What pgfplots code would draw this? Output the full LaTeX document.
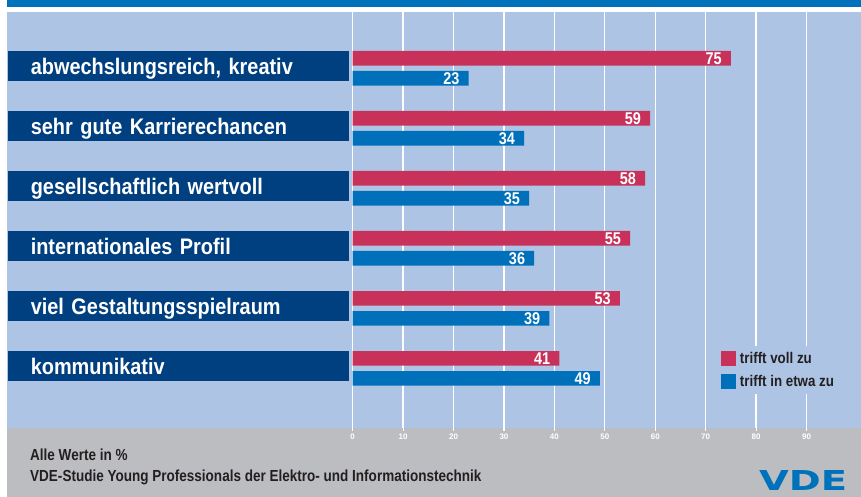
\documentclass[border=0pt]{standalone}
\usepackage{fontspec}
\usepackage{graphicx}
\usepackage{pgfplots}
\pgfplotsset{compat=1.18}
\setmainfont{Liberation Sans}
\newfontfamily\catfont{Liberation Sans}[FakeStretch=0.885, WordSpace=0.7]
\newfontfamily\legfont{Liberation Sans}[FakeStretch=0.86]
\newfontfamily\valfont{Liberation Sans}[FakeStretch=0.85]
\newfontfamily\footfont{Liberation Sans}[FakeStretch=0.845]
\newfontfamily\logofont{DejaVu Sans}
\definecolor{vdeblue}{HTML}{0072BC}
\definecolor{barblue}{HTML}{0070BA}
\definecolor{bgblue}{HTML}{AEC4E4}
\definecolor{dkblue}{HTML}{003F80}
\definecolor{vdred}{HTML}{C8325A}
\definecolor{bggray}{HTML}{BCBDC0}
\definecolor{txtdark}{HTML}{231F20}
\begin{document}
\begin{tikzpicture}[x=1pt,y=1pt]
\fill[white] (0,0) rectangle (861,497);
\fill[vdeblue] (7,490) rectangle (861,497);
\fill[bgblue] (7,69.3) rectangle (861,485);
\fill[bggray] (7,0) rectangle (861,69.3);
\begin{axis}[
  at={(352.7pt,69.3pt)}, anchor=south west,
  scale only axis, width=508.3pt, height=415.7pt,
  xmin=0, xmax=100.8, ymin=-0.989, ymax=5.939,
  xbar, bar width=14.7pt,
  /pgf/number format/assume math mode=true,
  axis line style={draw=none},
  xtick={0,10,...,90},
  xtick pos=lower,
  tick align=outside,
  major tick length=3pt,
  xtick style={white, line width=1.2pt},
  ytick style={draw=none},
  xmajorgrids, grid style={white, line width=1.3pt},
  xticklabel style={font=\bfseries\fontsize{8}{8}\selectfont, text=white},
  ytick={0,...,5},
  yticklabels={kommunikativ, viel Gestaltungsspielraum, internationales Profil, gesellschaftlich wertvoll, sehr gute Karrierechancen, {abwechslungsreich, kreativ}},
  yticklabel style={anchor=east, fill=dkblue, text=white,
    font=\catfont\bfseries\fontsize{22.5}{22.5}\selectfont,
    text width=295pt, align=left, inner xsep=23pt, inner ysep=0pt,
    text height=23pt, text depth=7pt, xshift=-0.7pt, yshift=2.3pt},
  point meta=x,
  nodes near coords,
  nodes near coords style={anchor=east, text=white, inner sep=0pt, xshift=-9pt,
    font=\valfont\bfseries\fontsize{17}{17}\selectfont},
  legend style={at={(axis cs:72.2,0.37)}, anchor=north west, fill=bgblue, draw=none,
    font=\legfont\bfseries\fontsize{15.5}{15.5}\selectfont, text=txtdark,
    row sep=6pt, inner sep=4pt,
    /tikz/every odd column/.append style={column sep=2pt}},
  legend cell align=left,
  legend image code/.code={\fill[#1] (0pt,-7.5pt) rectangle (15pt,7.5pt);},
]
\addplot[fill=vdred, draw=none, bar shift=10pt] coordinates {(41,0) (53,1) (55,2) (58,3) (59,4) (75,5)};
\addplot[fill=barblue, draw=none, bar shift=-10pt] coordinates {(49,0) (39,1) (36,2) (35,3) (34,4) (23,5)};
\legend{trifft voll zu, trifft in etwa zu}
\end{axis}
\node[anchor=base west, inner sep=0pt, text=txtdark, font=\footfont\bfseries\fontsize{16}{16}\selectfont] at (30,36.3) {Alle Werte in \%};
\node[anchor=base west, inner sep=0pt, text=txtdark, font=\footfont\bfseries\fontsize{16}{16}\selectfont] at (30,15.3) {VDE-Studie Young Professionals der Elektro- und Informationstechnik};
\node[anchor=base west, inner sep=0pt, text=vdeblue, font=\logofont\bfseries\fontsize{27.5}{27.5}\selectfont] at (759,6) {\resizebox{88pt}{20pt}{VDE}};
\pgfresetboundingbox
\path[use as bounding box] (0,0) rectangle (861,497);
\end{tikzpicture}
\end{document}
